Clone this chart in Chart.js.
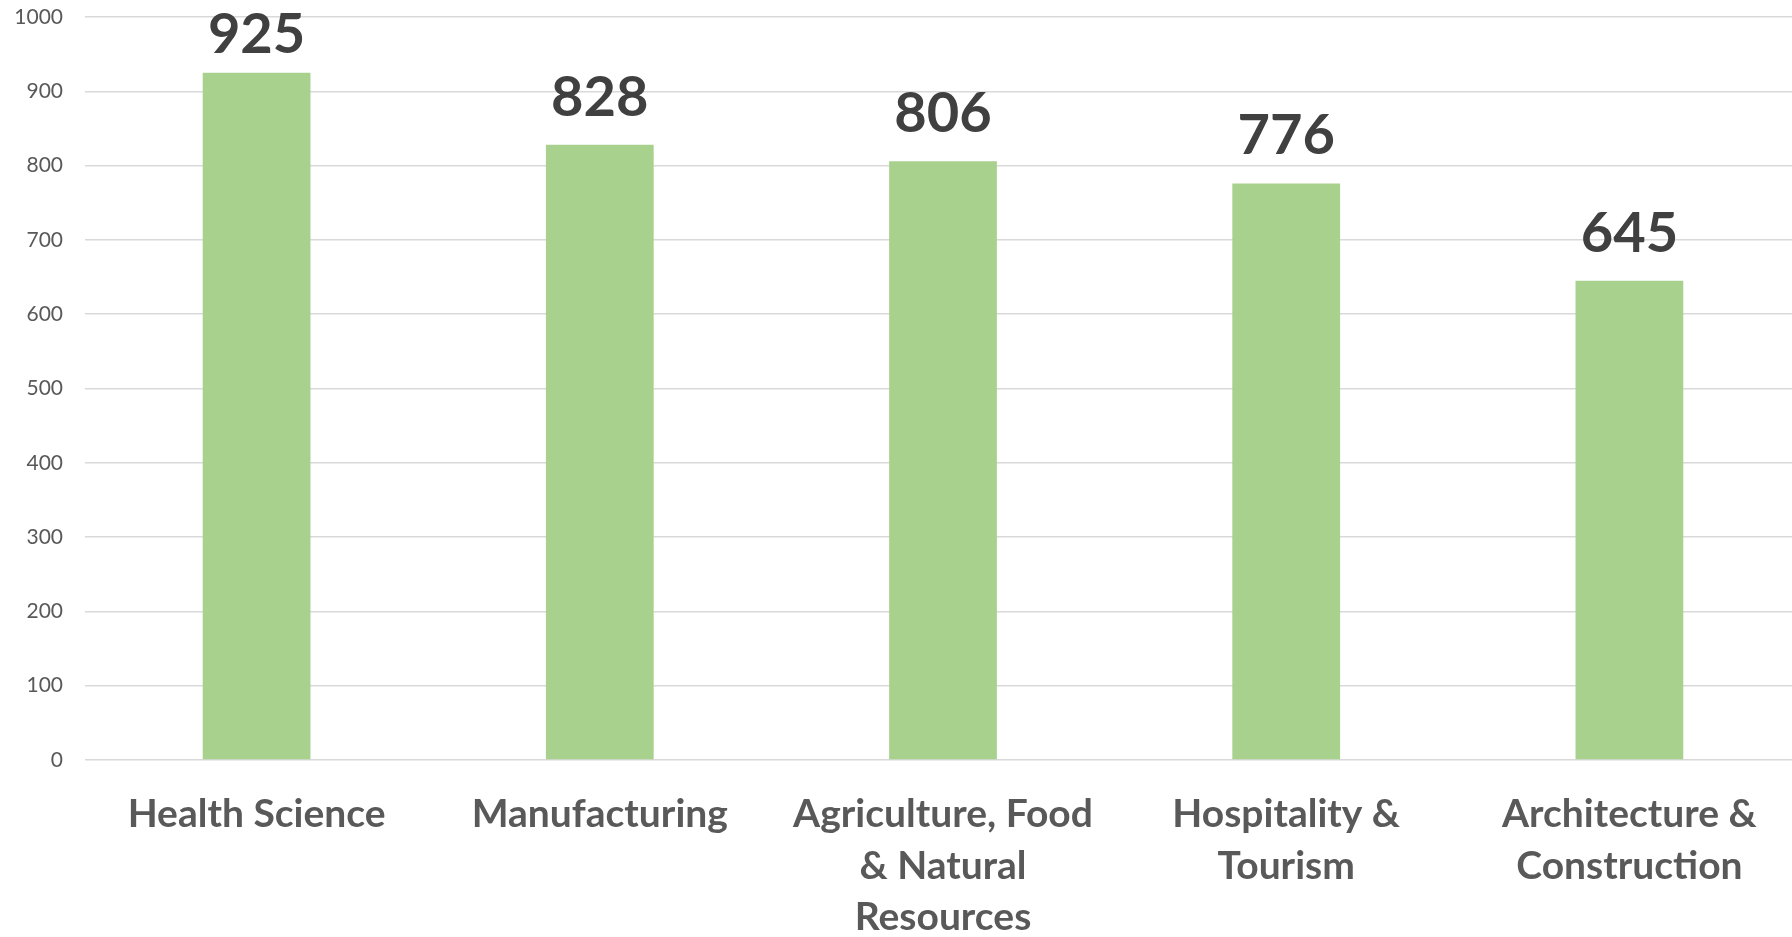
<!DOCTYPE html>
<html>
<head>
<meta charset="utf-8">
<title>Enrollment by career cluster</title>
<script src="https://cdn.jsdelivr.net/npm/chart.js@4/dist/chart.umd.min.js"></script>
<style>
  html, body { margin: 0; padding: 0; background: #fff; overflow: hidden; }
  #wrap { width: 1792px; height: 937px; overflow: hidden; }
</style>
</head>
<body>
<!-- plot runs a few px past the right edge, like the original -->
<div id="wrap"><canvas id="chart" width="1801" height="937"></canvas></div>
<script>
const categories = [
    'Health Science',
    'Manufacturing',
    ['Agriculture, Food', '& Natural', 'Resources'],
    ['Hospitality &', 'Tourism'],
    ['Architecture &', 'Construction']
]
const values = [925, 828, 806, 776, 645]
const yTicks = [0, 100, 200, 300, 400, 500, 600, 700, 800, 900, 1000]

// draws the number above each bar, the plugin from the CDN is not available
const barValues = {
    id: 'barValues',
    afterDatasetsDraw(chart) {
        const ctx = chart.ctx
        const meta = chart.getDatasetMeta(0)
        const minY = chart.chartArea.top + 36
        ctx.save()
        ctx.font = 'bold 56px Lato'
        ctx.fillStyle = '#404040'
        ctx.textAlign = 'center'
        ctx.textBaseline = 'alphabetic'
        meta.data.forEach((bar, i) => {
            // keep the tallest label inside the top edge
            ctx.fillText(String(values[i]), bar.x, Math.max(bar.y - 29, minY))
        })
        ctx.restore()
    }
}

const chart = document.getElementById('chart').getContext('2d')

new Chart(chart, {
    type: 'bar',
    data: {
        labels: categories,
        datasets: [
            {
                label: 'Students',
                data: values,
                backgroundColor: '#A9D18E',
                borderWidth: 0,
                categoryPercentage: 1,
                barPercentage: 0.314
            }
        ]
    },
    options: {
        responsive: false,
        animation: false,
        layout: { padding: { top: 17, right: 0, bottom: 0, left: 0 } },
        plugins: {
            legend: { display: false },
            tooltip: { enabled: false }
        },
        scales: {
            x: {
                grid: { display: false, drawTicks: false },
                border: { display: false },
                ticks: {
                    color: '#595959',
                    font: { family: 'Lato', size: 39, weight: 'bold', lineHeight: 1.32 },
                    padding: 29,
                    maxRotation: 0,
                    autoSkip: false
                },
                afterFit(scale) { scale.height = 177 }
            },
            y: {
                min: 0,
                max: 1000,
                afterBuildTicks(scale) {
                    scale.ticks = yTicks.map(v => ({ value: v }))
                },
                // invisible tick marks give the gap between labels and grid
                grid: { color: '#D9D9D9', lineWidth: 1.5, drawTicks: true, tickLength: 22, tickColor: 'rgba(0,0,0,0)' },
                border: { display: false },
                ticks: {
                    color: '#595959',
                    font: { family: 'Lato', size: 21 },
                    padding: 0,
                    callback: v => String(v)
                },
                afterFit(scale) { scale.width = 85 }
            }
        }
    },
    plugins: [barValues]
})
</script>
</body>
</html>
